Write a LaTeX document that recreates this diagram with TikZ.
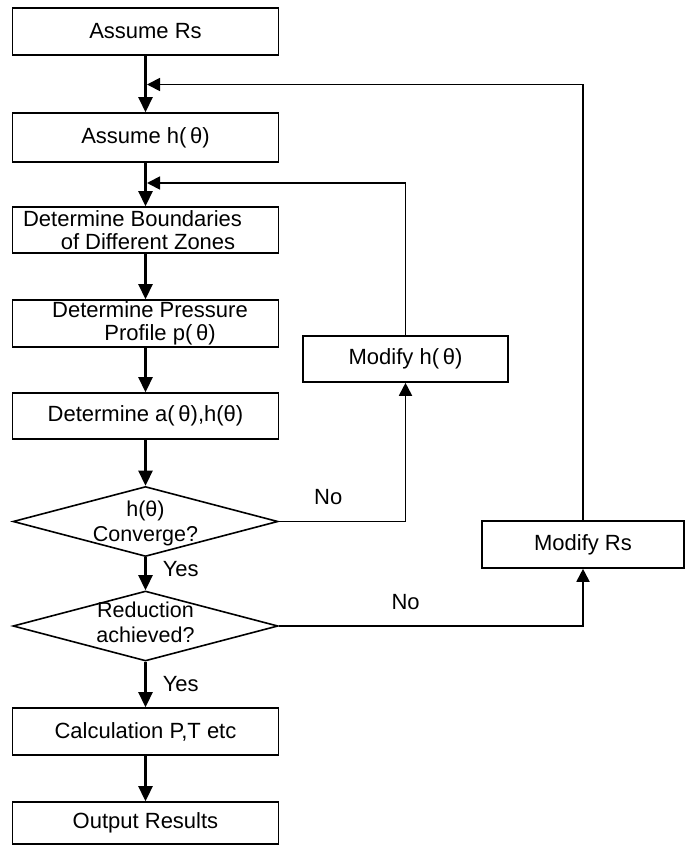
\documentclass[tikz,border=0pt]{standalone}
\usepackage{fontspec}
\setmainfont{Liberation Sans}
\usetikzlibrary{arrows.meta,shapes.geometric}
\begin{document}
\begin{tikzpicture}[x=1pt,y=-1pt,
  txt/.style={font=\fontsize{22}{31}\selectfont},
  box/.style={draw,line width=1.6pt,minimum width=266pt,minimum height=47pt,inner sep=0pt,align=center,txt},
  dia/.style={draw,diamond,line width=1.6pt,minimum width=265pt,minimum height=70pt,inner sep=0pt},
  diatext/.style={inner sep=0pt,align=center,font=\fontsize{21.5}{25}\selectfont},
  flow/.style={line width=2.6pt,-{Triangle[length=15pt,width=14pt]}},
  fb/.style={line width=1.8pt,-{Triangle[length=13pt,width=13pt]}},
  lab/.style={txt,inner sep=0pt}
]
\useasboundingbox (0,0) rectangle (686,845);
\node[box] (rs) at (145.5,31.5) {Assume Rs};
\node[box,minimum height=49pt] (ah) at (145.5,137.5) {Assume h(\,θ)};
\node[box,minimum height=46pt,font=\fontsize{22}{23}\selectfont] (db) at (145.5,230) {\hspace*{-26pt}Determine Boundaries\\ \hspace*{5pt}of Different Zones};
\node[box,font=\fontsize{22}{23}\selectfont] (dp) at (145.5,323.5) {\hspace*{9pt}Determine Pressure\\ \hspace*{29pt}Profile p(\,θ)};
\node[box,minimum height=46pt] (da) at (145.5,416) {Determine a(\,θ),h(θ)};
\node[dia,label={[diatext,yshift=-1.5pt]center:h(θ)\\Converge?}] (d1) at (145.5,521.5) {};
\node[dia,label={[diatext,yshift=3.5pt]center:Reduction\\achieved?}] (d2) at (145.5,626) {};
\node[box] (calc) at (145.5,731.5) {Calculation P,T etc};
\node[box,minimum height=42pt] (out) at (145.5,823) {Output Results};
\node[box,minimum width=205pt,minimum height=46pt] (mh) at (405.5,359) {Modify h(\,θ)};
\node[box,minimum width=202pt,minimum height=47pt] (mr) at (583,544.5) {Modify Rs};
\coordinate (j1) at (147,84.5);
\coordinate (j2) at (147,183);
\draw[flow] (rs) -- (ah);
\draw[flow] (ah) -- (db);
\draw[flow] (db) -- (dp);
\draw[flow] (dp) -- (da);
\draw[flow] (da) -- (d1);
\draw[flow] (d1) -- node[lab,anchor=west,pos=0.35,xshift=16pt] (y1) {Yes} (d2);
\draw[flow] (d2) -- node[lab,anchor=west,pos=0.5,xshift=16pt] (y2) {Yes} (calc);
\draw[flow] (calc) -- (out);
\draw[fb] (d1.east) -- node[lab,anchor=south,pos=0.39,yshift=16pt] (n1) {No} (d1.east -| mh.south) -- (mh.south);
\draw[fb] (d2.east) -- node[lab,anchor=south,pos=0.417,yshift=15pt] (n2) {No} (d2.east -| mr.south) -- (mr.south);
\draw[fb] (mh.north) |- (j2);
\draw[fb] (mr.north) |- (j1);
\end{tikzpicture}
\end{document}
